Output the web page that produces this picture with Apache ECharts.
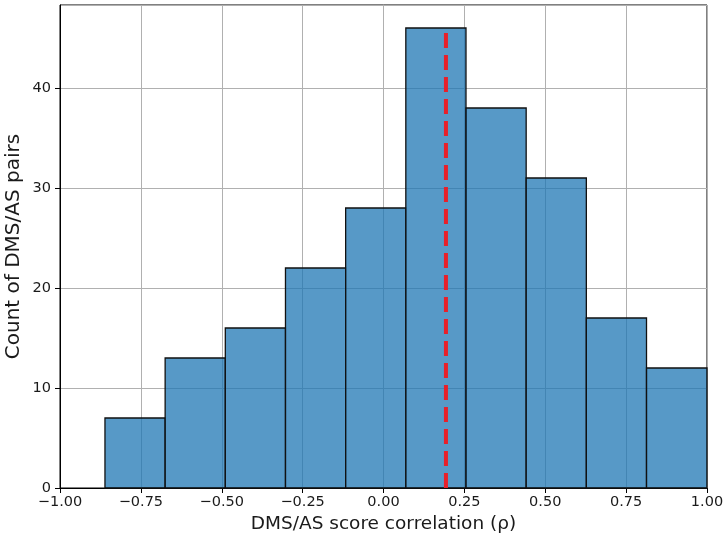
<!DOCTYPE html>
<html>
<head>
<meta charset="utf-8">
<script src="https://cdn.jsdelivr.net/npm/echarts@6/dist/echarts.min.js"></script>
<style>
  html, body { margin: 0; padding: 0; background: #fff; }
  #chart { width: 724px; height: 541px; }
</style>
</head>
<body>
<div id="chart"></div>
<script>
// histogram bins (edges) and counts
var binEdges = [-0.861, -0.675, -0.489, -0.303, -0.117, 0.069, 0.255, 0.441, 0.627, 0.813, 1.0];
var counts = [7, 13, 16, 22, 28, 46, 38, 31, 17, 12];
// red dashed reference line
var refX = 0.193;
var refTop = 46;

var barData = counts.map(function (c, i) {
  return [binEdges[i], binEdges[i + 1], c];
});

function fmtX(v) {
  return v.toFixed(2).replace('-', '\u2212');
}

var chart = echarts.init(document.getElementById('chart'));
var tickFont = { fontFamily: 'DejaVu Sans', fontSize: 14.5, color: '#1a1a1a' };

chart.setOption({
  animation: false,
  grid: {
    left: 60, right: 17, top: 5, bottom: 53,
    outerBoundsMode: 'none',
    containLabel: false,
    show: true, borderColor: '#000', borderWidth: 1
  },
  xAxis: {
    type: 'value',
    min: -1, max: 1, interval: 0.25,
    name: 'DMS/AS score correlation (\u03c1)',
    nameLocation: 'middle', nameGap: 27,
    nameTextStyle: { fontFamily: 'DejaVu Sans', fontSize: 18.5, color: '#1a1a1a' },
    axisLine: { show: true, onZero: false, lineStyle: { color: '#000' } },
    axisTick: { show: true, length: 5, lineStyle: { color: '#000' } },
    axisLabel: Object.assign({ formatter: fmtX, margin: 7 }, tickFont),
    splitLine: { show: true, lineStyle: { color: '#b0b0b0', width: 1 } }
  },
  yAxis: {
    type: 'value',
    min: 0, max: 48.3, interval: 10,
    name: 'Count of DMS/AS pairs',
    nameLocation: 'middle', nameGap: 36,
    nameMoveOverlap: false,
    nameTextStyle: { fontFamily: 'DejaVu Sans', fontSize: 20, color: '#1a1a1a' },
    axisLine: { show: true, onZero: false, lineStyle: { color: '#000' } },
    axisTick: { show: true, length: 5, lineStyle: { color: '#000' } },
    axisLabel: Object.assign({ margin: 9, showMaxLabel: false }, tickFont),
    splitLine: { show: true, lineStyle: { color: '#b0b0b0', width: 1 } }
  },
  series: [
    {
      type: 'custom',
      data: barData,
      encode: { x: [0, 1], y: 2 },
      renderItem: function (params, api) {
        var p0 = api.coord([api.value(0), api.value(2)]);
        var p1 = api.coord([api.value(1), 0]);
        return {
          type: 'rect',
          shape: { x: p0[0], y: p0[1], width: p1[0] - p0[0], height: p1[1] - p0[1] },
          style: { fill: 'rgba(31,119,180,0.75)', stroke: '#111', lineWidth: 1.3 }
        };
      }
    },
    {
      type: 'line',
      data: [[refX, 0], [refX, refTop]],
      symbol: 'none',
      z: 5,
      lineStyle: { color: '#e8202a', width: 4, type: [15, 7] }
    }
  ]
});
</script>
</body>
</html>
